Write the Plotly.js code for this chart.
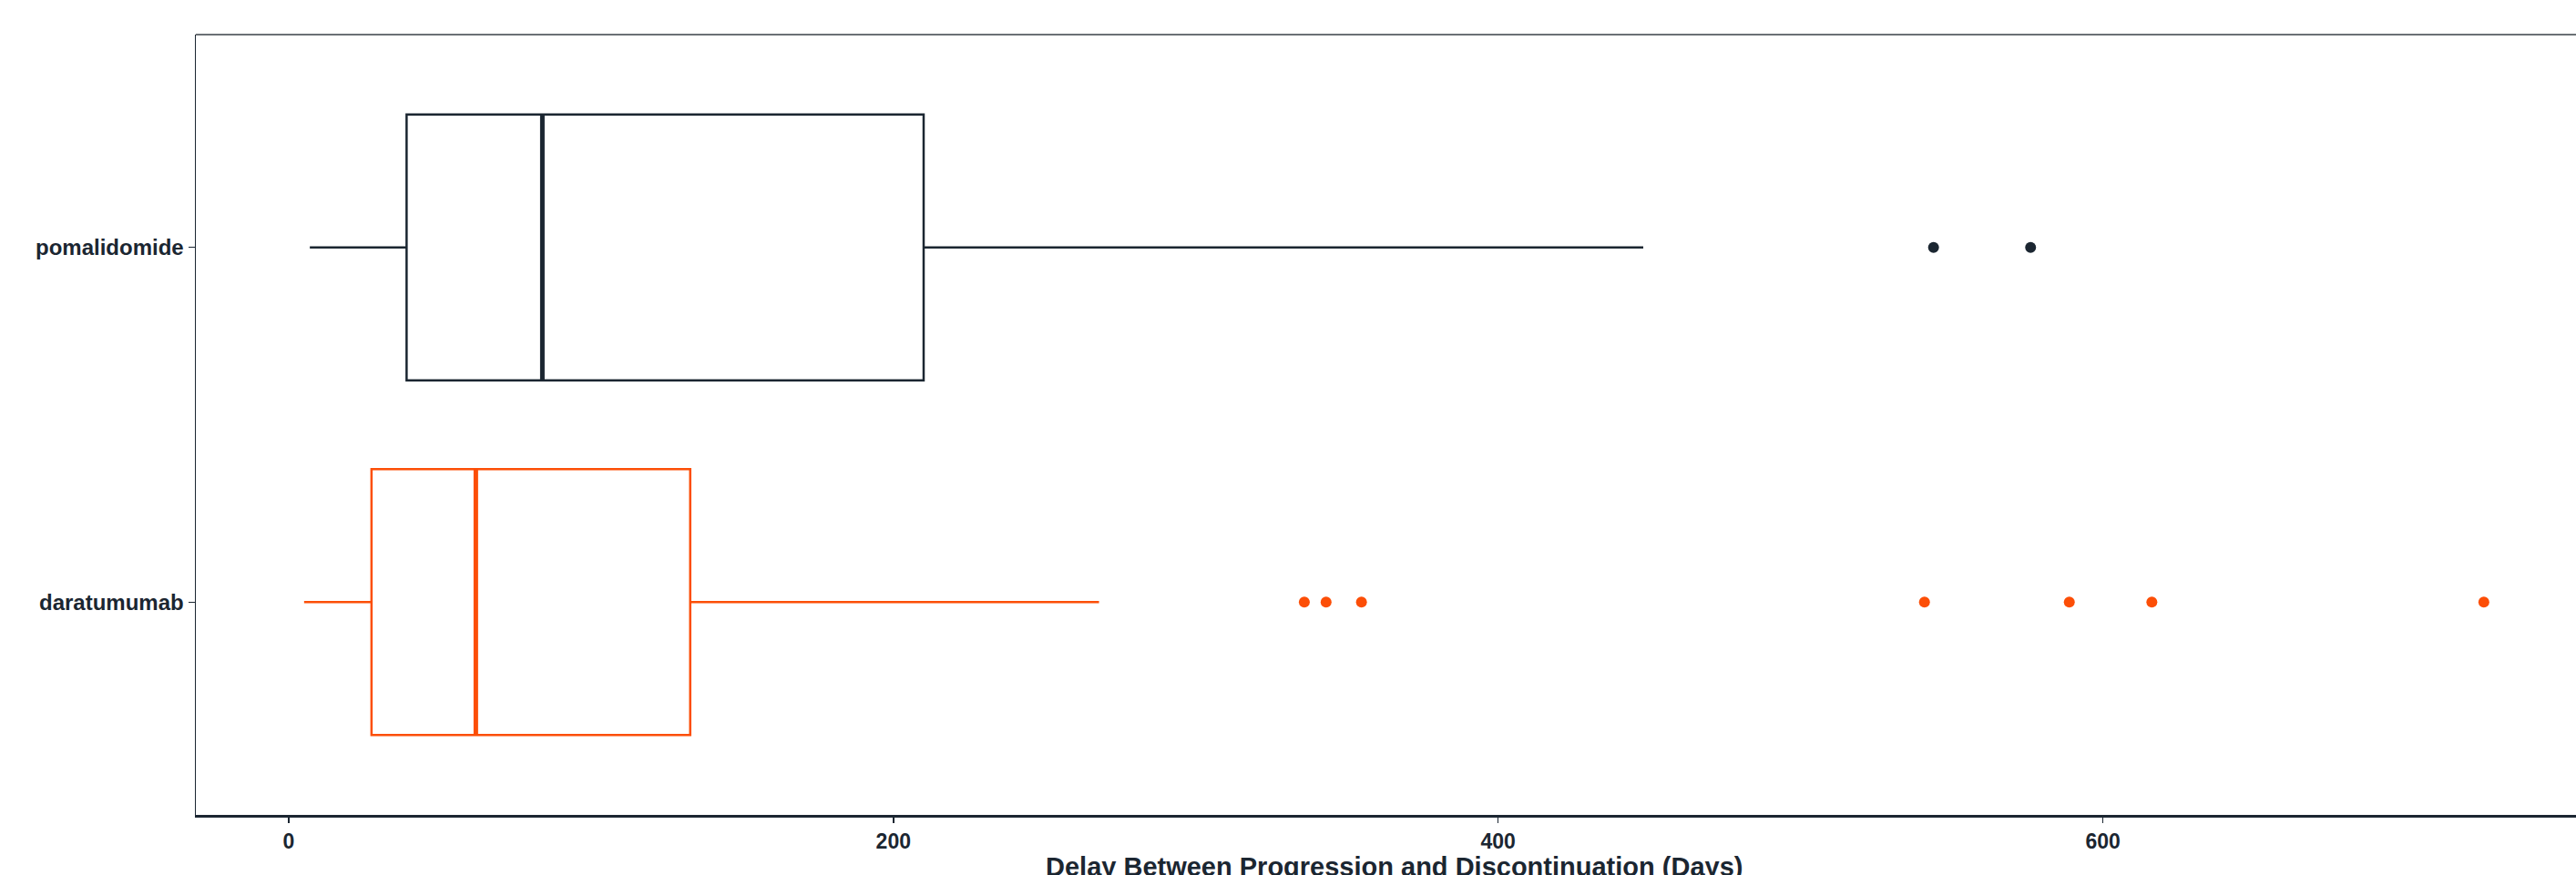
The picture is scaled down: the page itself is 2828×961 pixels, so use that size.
<!DOCTYPE html>
<html>
<head>
<meta charset="utf-8">
<script src="https://cdn.plot.ly/plotly-3.0.1.min.js"></script>
<style>
html,body{margin:0;padding:0;overflow:hidden;background:#fff;}
#chart{width:2845px;height:961px;}
</style>
</head>
<body>
<div id="chart"></div>
<script>
// Data
const categories = ['daratumumab', 'pomalidomide'];
const positions = [0, 1];
const lowerFence = [5.1, 7.0];
const q1 = [27.4, 39.0];
const medians = [61.9, 83.9];
const q3 = [132.8, 210.0];
const upperFence = [268.0, 448.0];
const daraOutliers = [335.9, 343.1, 354.8, 541.0, 588.9, 616.2, 726.0];
const pomOutliers = [544.0, 576.1];
const colors = ['#FC4E07', '#1B2631'];
const xTicks = [0, 200, 400, 600];
const xTitle = 'Delay Between Progression and Discontinuation (Days)';
const boxWidth = 0.75;

const traces = [];
categories.forEach((c, i) => {
  traces.push({
    type: 'box', orientation: 'h', name: c,
    y: [positions[i]],
    q1: [q1[i]], median: [medians[i]], q3: [q3[i]],
    lowerfence: [lowerFence[i]], upperfence: [upperFence[i]],
    width: boxWidth, whiskerwidth: 0,
    boxpoints: false,
    fillcolor: 'rgba(255,255,255,0)',
    line: {color: colors[i], width: 2.5},
    hoverinfo: 'skip', showlegend: false
  });
  traces.push({
    type: 'scatter', mode: 'lines',
    x: [medians[i], medians[i]],
    y: [positions[i] - boxWidth / 2, positions[i] + boxWidth / 2],
    line: {color: colors[i], width: 5},
    hoverinfo: 'skip', showlegend: false
  });
});
const outlierSets = [daraOutliers, pomOutliers];
outlierSets.forEach((arr, i) => {
  traces.push({
    type: 'scatter', mode: 'markers',
    x: arr, y: arr.map(() => positions[i]),
    marker: {color: colors[i], size: 12},
    hoverinfo: 'skip', showlegend: false
  });
});

const fontFam = '"Liberation Sans", Arial, sans-serif';
const layout = {
  width: 2845, height: 961,
  margin: {l: 215, r: 0, t: 38, b: 66},
  paper_bgcolor: '#fff', plot_bgcolor: '#fff',
  showlegend: false,
  font: {family: fontFam, color: '#1B2631'},
  xaxis: {
    range: [-30.7, 761.6],
    tickvals: xTicks, ticktext: xTicks.map(String),
    showgrid: false, zeroline: false,
    showline: true, linecolor: '#1B2631', linewidth: 3,
    ticks: 'outside', ticklen: 6, tickwidth: 1.5, tickcolor: '#1B2631',
    tickfont: {family: fontFam, size: 23, color: '#1B2631', weight: 'bold'},
    automargin: false
  },
  yaxis: {
    range: [-0.6, 1.6],
    tickvals: positions, ticktext: categories,
    showgrid: false, zeroline: false,
    showline: true, linecolor: '#1B2631', linewidth: 1.5,
    ticks: 'outside', ticklen: 7, tickwidth: 1.5, tickcolor: '#1B2631',
    tickfont: {family: fontFam, size: 24, color: '#1B2631', weight: 'bold'},
    automargin: false
  },
  annotations: [{
    text: xTitle, xref: 'paper', yref: 'paper', x: 0.5, y: 0,
    xanchor: 'center', yanchor: 'top', yshift: -39, showarrow: false,
    font: {family: fontFam, size: 29, color: '#1B2631', weight: 'bold'}
  }],
  shapes: [{
    type: 'line', xref: 'paper', yref: 'paper', x0: 0, x1: 1, y0: 1, y1: 1,
    line: {color: '#3a4047', width: 1.5}
  }]
};

Plotly.newPlot('chart', traces, layout, {staticPlot: true, displayModeBar: false});
</script>
</body>
</html>
